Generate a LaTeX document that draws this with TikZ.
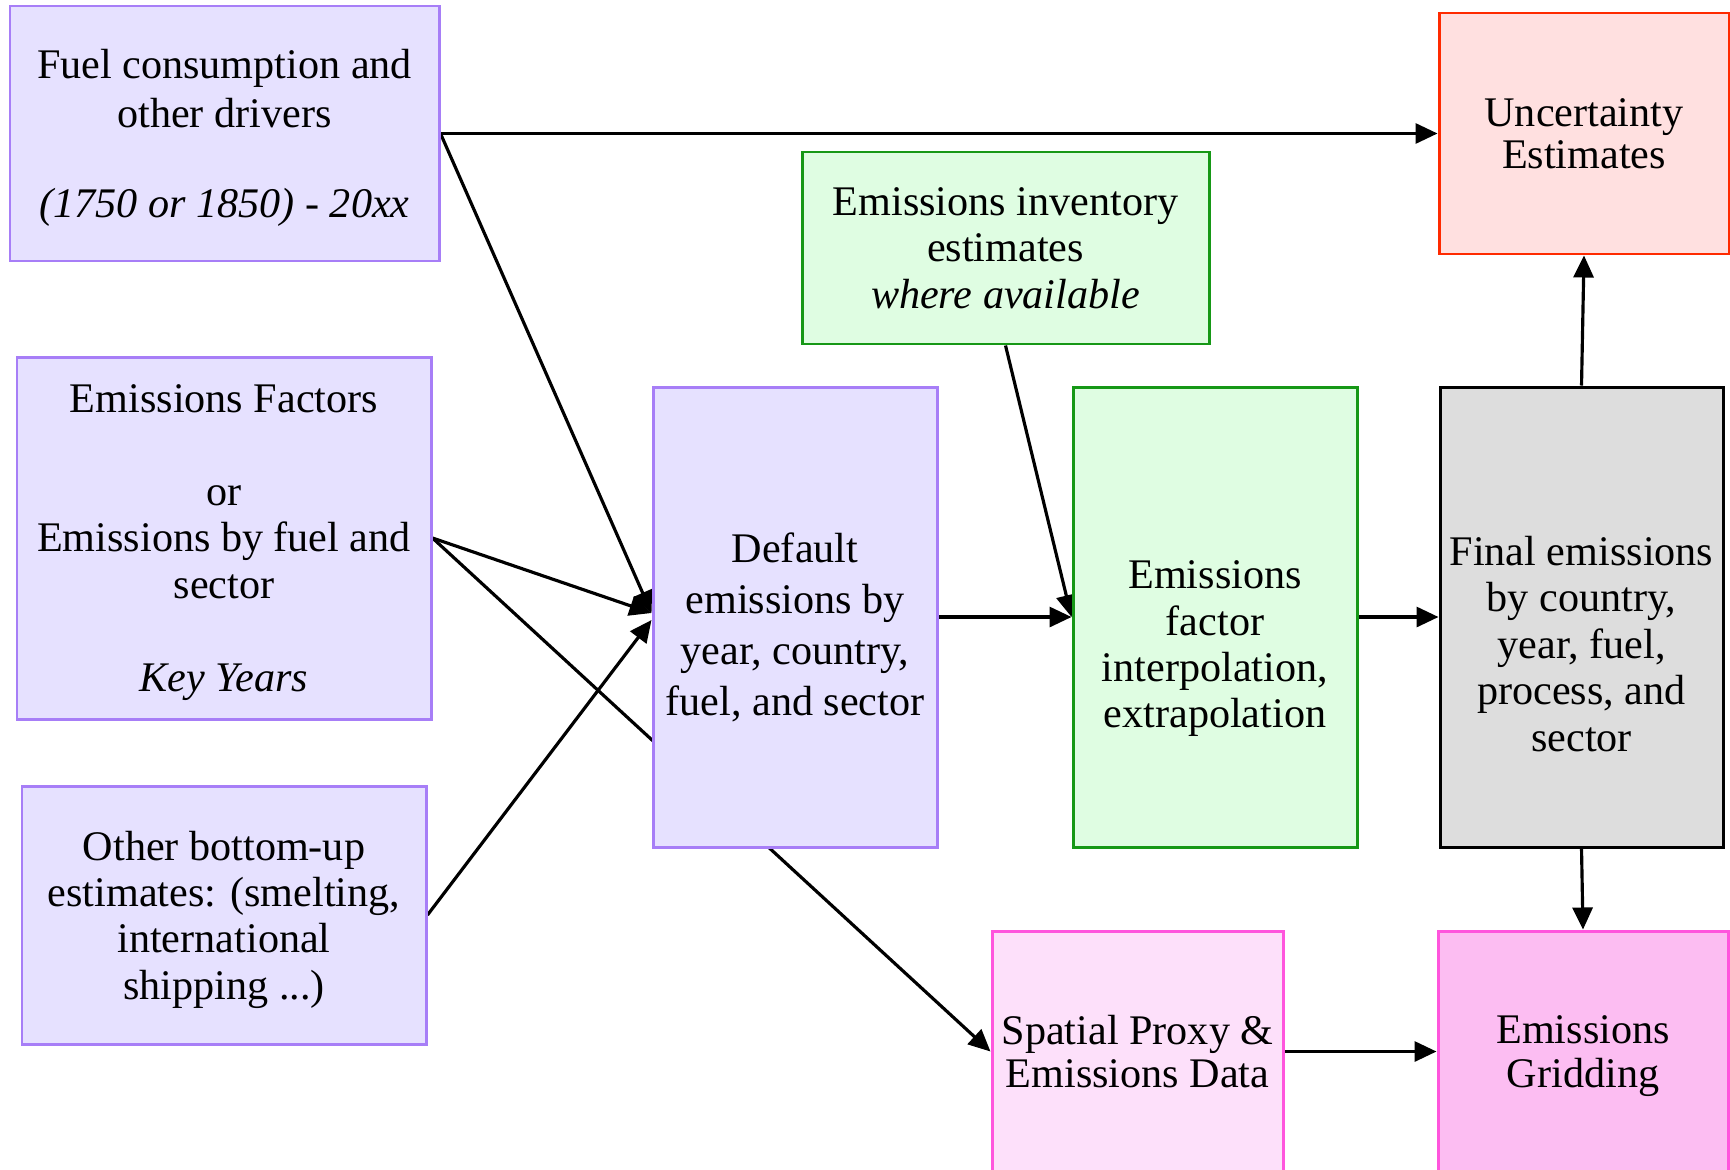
\documentclass[tikz,border=0pt]{standalone}
\usepackage{fontspec}
\setmainfont{Liberation Serif}
\usetikzlibrary{arrows.meta,backgrounds}

\definecolor{lilacfill}{HTML}{E6E1FF}
\definecolor{lilacline}{HTML}{A77EF7}
\definecolor{greenfill}{HTML}{DFFDE2}
\definecolor{greenline}{HTML}{169816}
\definecolor{redfill}{HTML}{FFE0E0}
\definecolor{redline}{HTML}{FF2A00}
\definecolor{greyfill}{HTML}{DDDDDD}
\definecolor{pinkfill}{HTML}{FDE0FA}
\definecolor{pinkdark}{HTML}{FCBDF2}
\definecolor{pinkline}{HTML}{FF55DD}

% text block set a little below the middle of its box
\newcommand{\sinktext}[2]{\raisebox{-#1}[\height][\depth]{%
  \begin{tabular}{@{}c@{}}#2\end{tabular}}}

\begin{document}
\begin{tikzpicture}[
    box/.style={draw, line width=0.85pt, align=center, inner sep=2pt,
      font=\fontsize{12}{13.2}\selectfont},
    lilac/.style={box, fill=lilacfill, draw=lilacline},
    green/.style={box, fill=greenfill, draw=greenline},
    flow/.style={line width=0.9pt, -{Triangle[length=2.2mm,width=2mm]}}]
    \pgfmathsetmacro{\wbig}{2.84}
    \pgfmathsetmacro{\hbig}{4.60}
    \pgfmathsetmacro{\ymid}{-6.17}
    \useasboundingbox (0, 0) rectangle (17.30, -11.69);

    % inputs on the left
    \node[lilac, minimum width=4.29cm, minimum height=2.55cm, text depth=-0.01cm,%
          font=\fontsize{12}{14}\selectfont] (fuel) at (2.245, -1.335)%
         {Fuel consumption and\\other drivers\\[11.5pt]\textit{(1750 or 1850) - 20xx}};
    \node[lilac, minimum width=4.14cm, minimum height=3.62cm, text depth=-0.02cm]%
         (factors) at (2.24, -5.38)%
         {Emissions Factors\\[13.2pt]or\\Emissions by fuel and\\sector\\[13.2pt]\textit{Key Years}};
    \node[lilac, minimum width=4.04cm, minimum height=2.58cm, text depth=-0.02cm]%
         (other) at (2.24, -9.15)%
         {Other bottom-up\\estimates: (smelting,\\international\\shipping ...)};

    % processing chain
    \node[lilac, minimum width=\wbig cm, minimum height=\hbig cm,%
          font=\fontsize{12}{14.5}\selectfont] (default) at (7.95, \ymid)%
         {\sinktext{0.12cm}{Default\\emissions by\\year, country,\\fuel, and sector}};
    \node[green, minimum width=4.07cm, minimum height=1.92cm] (inventory) at (10.055, -2.48)%
         {Emissions inventory\\estimates\\\textit{where available}};
    \node[green, minimum width=\wbig cm, minimum height=\hbig cm]%
         (interp) at (12.15, \ymid)%
         {\sinktext{0.32cm}{Emissions\\factor\\interpolation,\\extrapolation}};
    \node[box, fill=greyfill, minimum width=2.83cm, minimum height=\hbig cm]%
         (final) at (15.815, \ymid)%
         {\sinktext{0.32cm}{Final emissions\\by country,\\year, fuel,\\process, and\\sector}};

    % outputs
    \node[box, fill=redfill, draw=redline, minimum width=2.90cm, minimum height=2.41cm,%
          font=\fontsize{12}{12}\selectfont] (uncert) at (15.84, -1.335)%
         {Uncertainty\\Estimates};
    \node[box, fill=pinkfill, draw=pinkline, minimum width=2.91cm, minimum height=2.41cm,%
          font=\fontsize{12}{12.4}\selectfont] (spatial) at (11.375, -10.515)%
         {Spatial Proxy \&\\Emissions Data};
    \node[box, fill=pinkdark, draw=pinkline, minimum width=2.90cm, minimum height=2.41cm,%
          text depth=0cm, font=\fontsize{12}{12.4}\selectfont] (grid) at (15.83, -10.515)%
         {Emissions\\Gridding};

    \begin{scope}[on background layer]
      \draw[flow] (fuel.east) -- (uncert.west);
      \draw[flow] (fuel.east) -- ([yshift=0.04cm]default.west);
      \draw[flow] (factors.east) -- ([yshift=0.04cm]default.west);
      \draw[flow] (factors.east) -- (spatial.west);
      \draw[flow] (other.east) -- ([yshift=-0.03cm]default.west);
      \draw[flow] (inventory.south) -- (interp.west);
      \draw[flow] (default.east) -- (interp.west);
      \draw[flow] (interp.east) -- (final.west);
      \draw[flow] (final.north) -- (uncert.south);
      \draw[flow] (final.south) -- (grid.north);
      \draw[flow] (spatial.east) -- (grid.west);
    \end{scope}
  \end{tikzpicture}
\end{document}
